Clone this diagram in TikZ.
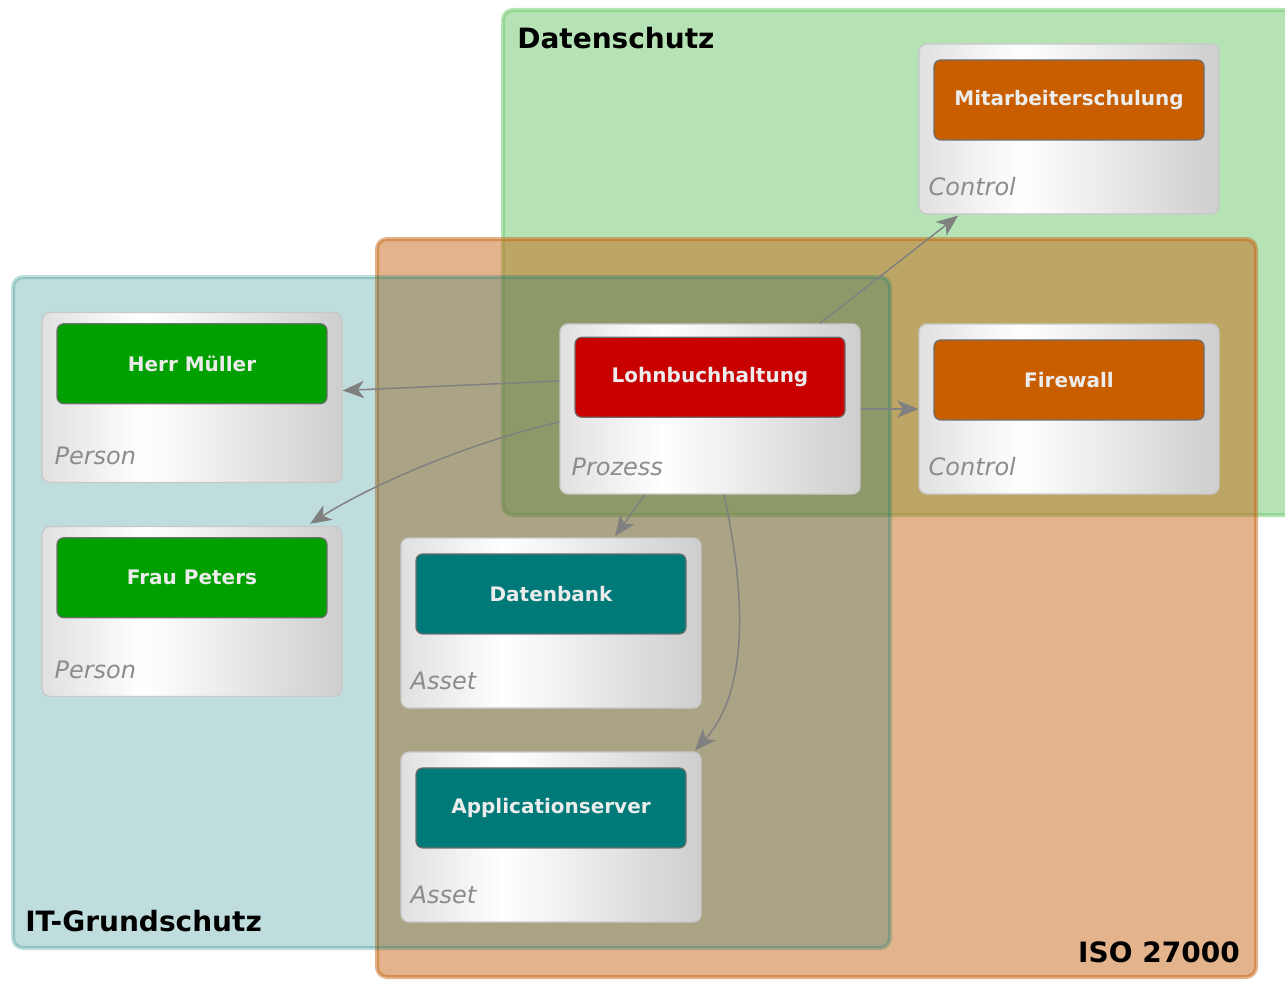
\documentclass[tikz,border=0pt]{standalone}
\usepackage{fontspec}
\newfontfamily\dvsans{DejaVu Sans}[BoldFont={DejaVu Sans Bold},ItalicFont={DejaVu Sans Oblique}]
\usepackage{xcolor}
\usepackage{tikz}
\usetikzlibrary{arrows.meta,positioning}

\definecolor{dsgreen}{RGB}{107,199,107}
\definecolor{isoorange}{RGB}{199,103,23}
\definecolor{itteal}{RGB}{0,120,116}
\definecolor{persongreen}{RGB}{0,160,0}
\definecolor{procred}{RGB}{200,0,0}
\definecolor{ctrlorange}{RGB}{200,94,0}
\definecolor{assetteal}{RGB}{0,122,120}
\definecolor{shadeL}{RGB}{224,224,224}
\definecolor{shadeR}{RGB}{206,206,206}
\definecolor{boxrim}{RGB}{200,200,200}
\definecolor{innerrim}{RGB}{110,110,110}
\definecolor{labelwhite}{RGB}{236,236,236}
\definecolor{catgray}{RGB}{140,140,140}
\definecolor{arrowgray}{RGB}{128,128,128}

\pgfdeclarehorizontalshading{boxshade}{100bp}{color(0bp)=(shadeL); color(25bp)=(shadeL); color(42bp)=(white); color(75bp)=(shadeR); color(100bp)=(shadeR)}

\begin{document}
\begin{tikzpicture}[
    x=0.75pt, y=-0.75pt,
    group/.style={line width=3pt, rounded corners=7.5pt},
    outerbox/.style={draw=boxrim, line width=1pt, rounded corners=6pt, shading=boxshade, minimum width=225pt, minimum height=127.5pt, inner sep=0pt},
    innerbox/.style={draw=innerrim, line width=0.9pt, rounded corners=5pt, minimum width=202.5pt, minimum height=60pt, inner sep=0pt, font=\dvsans\bfseries\fontsize{15}{18}\selectfont, text=labelwhite},
    catlabel/.style={font=\dvsans\itshape\fontsize{18}{21}\selectfont, text=catgray, anchor=base west, inner sep=0pt},
    grouplabel/.style={font=\dvsans\bfseries\fontsize{21}{25}\selectfont, inner sep=0pt},
    arrow/.style={-{Stealth[length=16pt, width=13pt, inset=4.5pt]}, draw=arrowgray, line width=1.1pt}
]
\useasboundingbox (0,0) rectangle (1285,981);
\clip (0,0) rectangle (1285,981);

% --- groups ---
\draw[group, fill=dsgreen, draw=dsgreen, opacity=0.5] (503,10) rectangle (1310,515);
\draw[group, fill=isoorange, draw=isoorange, opacity=0.5] (377,239) rectangle (1256,977);
\draw[group, fill=itteal, draw=itteal, opacity=0.25] (13,277) rectangle (890,948);

\node[grouplabel, anchor=base west] (dslabel) at (517,49) {Datenschutz};
\node[grouplabel, anchor=base west] (itlabel) at (25,931) {IT-Grundschutz};
\node[grouplabel, anchor=base east] (isolabel) at (1240,962) {ISO 27000};

% --- elements ---
\node[outerbox] (mueller) at (192,397.5) {};
\node[innerbox, fill=persongreen, below=8.5pt of mueller.north] (muellername) {Herr Müller};
\node[catlabel] (muellercat) at ([shift={(13,-19)}]mueller.south west) {Person};

\node[outerbox] (peters) at (192,611.5) {};
\node[innerbox, fill=persongreen, below=8.5pt of peters.north] (petersname) {Frau Peters};
\node[catlabel] (peterscat) at ([shift={(13,-19)}]peters.south west) {Person};

\node[outerbox] (lohn) at (710,409) {};
\node[innerbox, fill=procred, below=10pt of lohn.north] (lohnname) {Lohnbuchhaltung};
\node[catlabel] (lohncat) at ([shift={(12,-19)}]lohn.south west) {Prozess};

\node[outerbox] (schulung) at (1069,129) {};
\node[innerbox, fill=ctrlorange, below=12pt of schulung.north] (schulungname) {Mitarbeiterschulung};
\node[catlabel] (schulungcat) at ([shift={(10,-19)}]schulung.south west) {Control};

\node[outerbox] (firewall) at (1069,409) {};
\node[innerbox, fill=ctrlorange, below=12pt of firewall.north] (firewallname) {Firewall};
\node[catlabel] (firewallcat) at ([shift={(10,-19)}]firewall.south west) {Control};

\node[outerbox] (datenbank) at (551,623) {};
\node[innerbox, fill=assetteal, below=12pt of datenbank.north] (datenbankname) {Datenbank};
\node[catlabel] (datenbankcat) at ([shift={(10,-19)}]datenbank.south west) {Asset};

\node[outerbox] (appserver) at (551,837) {};
\node[innerbox, fill=assetteal, below=12pt of appserver.north] (appservername) {Applicationserver};
\node[catlabel] (appservercat) at ([shift={(10,-19)}]appserver.south west) {Asset};

% --- relations ---
\draw[arrow] ([shift={(0,-28)}]lohn.west) -- ([shift={(0,-7)}]mueller.east);
\draw[arrow] ([shift={(0,13)}]lohn.west) .. controls +(-80,18) and +(70,-44) .. ([shift={(118,-2)}]peters.north);
\draw[arrow] ([shift={(110,0)}]lohn.north) -- ([shift={(-111,1)}]schulung.south);
\draw[arrow] (lohn.east) -- (firewall.west);
\draw[arrow] ([shift={(-65,0)}]lohn.south) -- ([shift={(64,-1)}]datenbank.north);
\draw[arrow] ([shift={(14,0)}]lohn.south) .. controls +(21,96) and +(55,-60) .. ([shift={(144,-1)}]appserver.north);

\end{tikzpicture}
\end{document}
